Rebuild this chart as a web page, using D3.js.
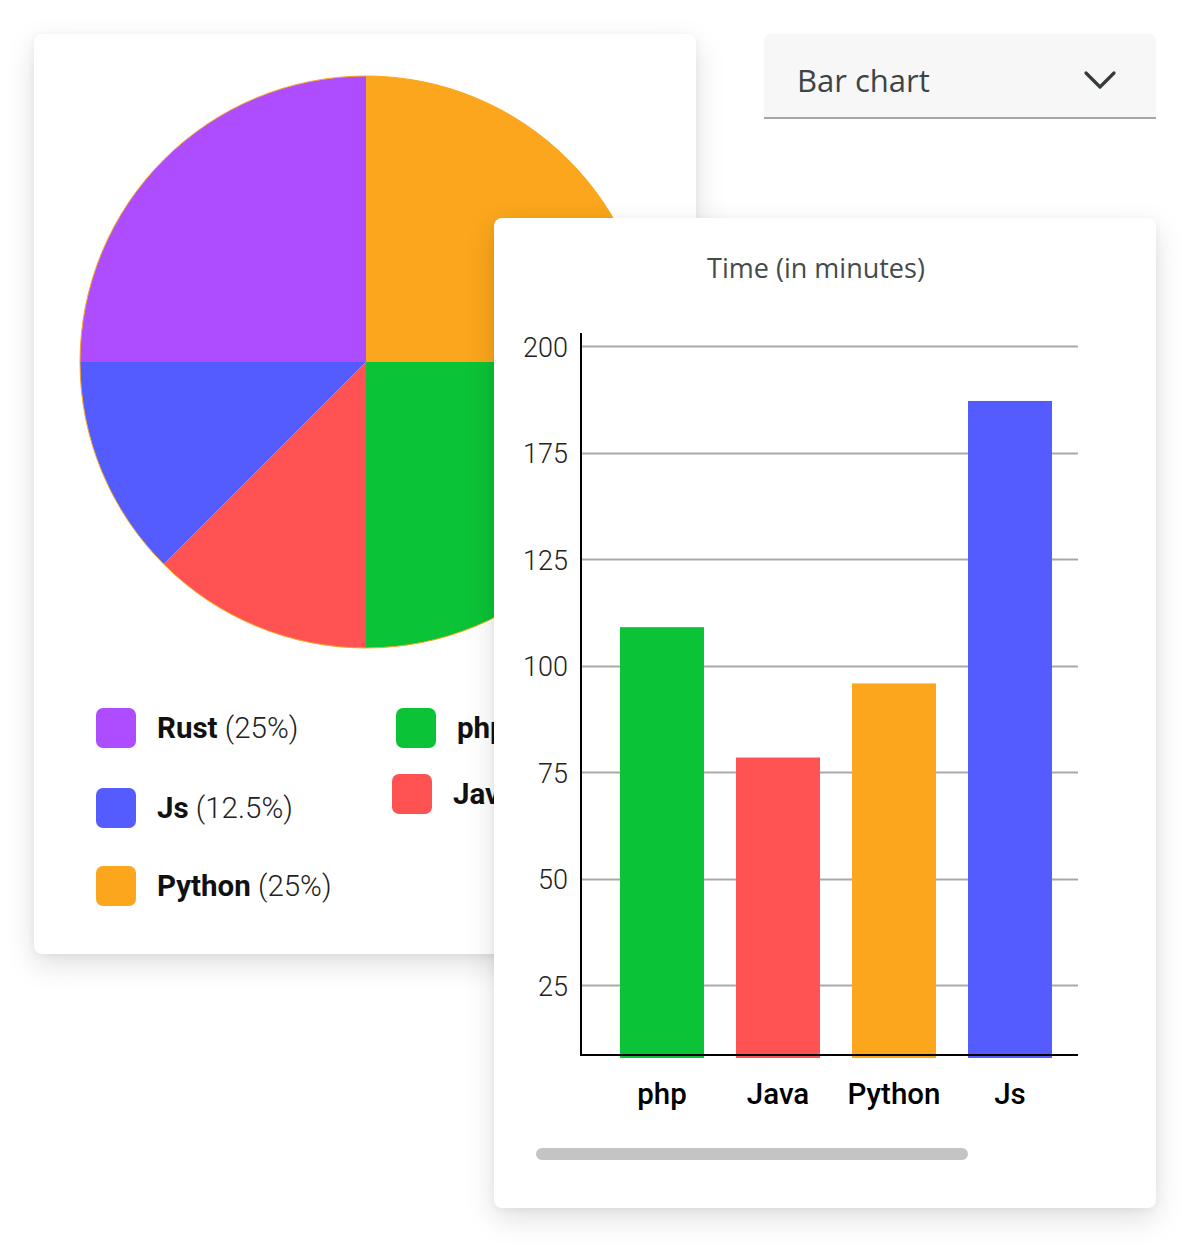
<!DOCTYPE html>
<html>
<head>
<meta charset="utf-8">
<script src="https://cdn.jsdelivr.net/npm/d3@7"></script>
<style>
  html, body { margin: 0; padding: 0; background: #ffffff; }
  body { width: 1202px; height: 1254px; position: relative; overflow: hidden; }
  .card { position: absolute; background: #ffffff; border-radius: 8px;
          box-shadow: 0 10px 30px rgba(0,0,0,0.13), 0 2px 8px rgba(0,0,0,0.05); overflow: hidden; }
  .card svg { position: absolute; left: 0; top: 0; }
  #dropdown { position: absolute; left: 764px; top: 34px; width: 392px; height: 83px;
              background: #f7f7f7; border-radius: 6px 6px 0 0; border-bottom: 2px solid #a6a6a6; }
  #dropdown svg { position: absolute; left: 0; top: 0; }
</style>
</head>
<body>
<div id="pieCard" class="card" style="left:34px;top:34px;width:662px;height:920px;"></div>
<div id="dropdown"></div>
<div id="barCard" class="card" style="left:494px;top:218px;width:662px;height:990px;"></div>
<script>
// ---------- data ----------
const pieLabels = ["Python", "php", "Java", "Js", "Rust"];
const pieValues = [25, 25, 12.5, 12.5, 25];
const pieColors = ["#fba61c", "#0bc336", "#ff5353", "#545cff", "#ad4dff"];

const legendLabels = ["Rust", "Js", "Python", "php", "Java"];
const legendPercents = ["(25%)", "(12.5%)", "(25%)", "(25%)", "(12.5%)"];
const legendColors = ["#ad4dff", "#545cff", "#fba61c", "#0bc336", "#ff5353"];

const barCategories = ["php", "Java", "Python", "Js"];
const barValues = [109, 78.4, 95.8, 162.1];
const barColors = ["#0bc336", "#ff5353", "#fba61c", "#545cff"];

const tickValues = [25, 50, 75, 100, 125, 150, 175];
const tickLabels = ["25", "50", "75", "100", "125", "175", "200"];

const barTitle = "Time (in minutes)";
const dropdownText = "Bar chart";

// ---------- pie card ----------
(function () {
  const ox = 34, oy = 34;
  const svg = d3.select("#pieCard").append("svg").attr("width", 662).attr("height", 920);
  const g = svg.append("g").attr("transform", `translate(${-ox},${-oy})`);
  const cx = 366, cy = 362, r = 286;
  const pie = d3.pie().sort(null).value(d => d)(pieValues);
  const arc = d3.arc().innerRadius(0).outerRadius(r);
  const pg = g.append("g").attr("transform", `translate(${cx},${cy})`);
  pg.selectAll("path").data(pie).join("path")
    .attr("d", arc).attr("fill", (d, i) => pieColors[i]);
  pg.append("circle").attr("r", r).attr("fill", "none")
    .attr("stroke", "#fba61c").attr("stroke-width", 1);

  const legendPos = [
    {x: 96, y: 708}, {x: 96, y: 788}, {x: 96, y: 866},
    {x: 396, y: 708}, {x: 392, y: 774}
  ];
  const lg = g.append("g");
  legendLabels.forEach((lab, i) => {
    const p = legendPos[i];
    lg.append("rect").attr("x", p.x).attr("y", p.y).attr("width", 40).attr("height", 40)
      .attr("rx", 7).attr("fill", legendColors[i]);
    const t = lg.append("text").attr("x", p.x + 61).attr("y", p.y + 30)
      .attr("font-family", "Roboto").attr("font-size", 29.5).attr("fill", "#111");
    t.append("tspan").attr("font-weight", 700).text(lab);
    t.append("tspan").attr("font-weight", 300).attr("fill", "#222").text(" " + legendPercents[i]);
  });
})();

// ---------- dropdown ----------
(function () {
  const svg = d3.select("#dropdown").append("svg").attr("width", 392).attr("height", 83);
  svg.append("text").attr("x", 33).attr("y", 58)
    .attr("font-family", "Open Sans").attr("font-size", 31).attr("font-weight", 400)
    .attr("fill", "#3c4446").text(dropdownText);
  svg.append("path").attr("d", "M322,39 L336,53 L350,39")
    .attr("fill", "none").attr("stroke", "#363c3e").attr("stroke-width", 3.2)
    .attr("stroke-linecap", "round").attr("stroke-linejoin", "round");
})();

// ---------- bar card ----------
(function () {
  const ox = 494, oy = 218;
  const svg = d3.select("#barCard").append("svg").attr("width", 662).attr("height", 990);
  const g = svg.append("g").attr("transform", `translate(${-ox},${-oy})`);

  const x0 = 581, x1 = 1078, yBase = 1055;
  const y = d3.scaleLinear().domain([8.57, 175]).range([yBase, 346]);
  const x = d3.scaleBand().domain(barCategories).range([604, 1068])
    .paddingInner(0.276).paddingOuter(0.138);

  g.append("text").attr("x", 816).attr("y", 278).attr("text-anchor", "middle")
    .attr("font-family", "Open Sans").attr("font-size", 27).attr("fill", "#444b4d")
    .text(barTitle);

  // gridlines
  g.append("g").selectAll("line").data(tickValues).join("line")
    .attr("x1", x0).attr("x2", x1)
    .attr("y1", d => Math.round(y(d)) + 0.5).attr("y2", d => Math.round(y(d)) + 0.5)
    .attr("stroke", "#a9a9a9").attr("stroke-width", 2);

  // y axis
  const yAxis = d3.axisLeft(y).tickValues(tickValues)
    .tickFormat((d, i) => tickLabels[i]).tickSize(0).tickPadding(13);
  const ya = g.append("g").attr("transform", `translate(${x0},0)`).call(yAxis);
  ya.select(".domain").remove();
  ya.selectAll("text").attr("font-family", "Roboto").attr("font-weight", 300)
    .attr("font-size", 27).attr("fill", "#222").attr("dy", "0.38em");

  // bars
  g.append("g").selectAll("rect").data(barValues).join("rect")
    .attr("x", (d, i) => x(barCategories[i]))
    .attr("width", x.bandwidth())
    .attr("y", d => y(d))
    .attr("height", d => yBase + 3 - y(d))
    .attr("fill", (d, i) => barColors[i]);

  // axis lines
  g.append("line").attr("x1", x0).attr("x2", x0).attr("y1", 333).attr("y2", yBase + 1)
    .attr("stroke", "#000").attr("stroke-width", 2);
  g.append("line").attr("x1", x0 - 1).attr("x2", x1).attr("y1", yBase).attr("y2", yBase)
    .attr("stroke", "#000").attr("stroke-width", 2);

  // x labels
  const xAxis = d3.axisBottom(x).tickSize(0).tickPadding(0);
  const xa = g.append("g").attr("transform", `translate(0,${yBase})`).call(xAxis);
  xa.select(".domain").remove();
  xa.selectAll("text").attr("font-family", "Roboto").attr("font-weight", 500)
    .attr("font-size", 29.5).attr("fill", "#000").attr("dy", null).attr("y", 49);

  // scrollbar
  g.append("rect").attr("x", 536).attr("y", 1148).attr("width", 432).attr("height", 12)
    .attr("rx", 6).attr("fill", "#c4c4c4");
})();
</script>
</body>
</html>
